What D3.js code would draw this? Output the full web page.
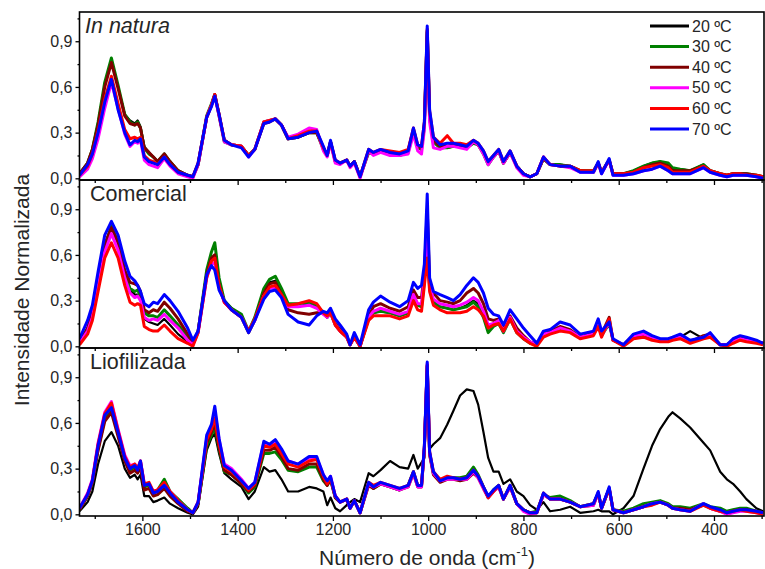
<!DOCTYPE html>
<html>
<head>
<meta charset="utf-8">
<script src="https://cdn.jsdelivr.net/npm/d3@7"></script>
<style>
  body { margin: 0; background: #fff; }
  text { font-family: "Liberation Sans", Arial, sans-serif; fill: #262626; }
</style>
</head>
<body>
<svg id="chart" width="765" height="569"></svg>
<script>
// Raman shift grid (cm-1), shared by every spectrum below
const wavenumbers = [
  1732, 1715, 1705, 1693, 1679, 1665, 1651, 1637, 1626, 1616,
  1610, 1604, 1596, 1586, 1577, 1568, 1554, 1542, 1525, 1505,
  1494, 1483, 1465, 1455, 1448, 1439, 1428, 1413, 1392, 1377,
  1364, 1345, 1333, 1321, 1308, 1294, 1273, 1250, 1234, 1220,
  1212, 1205, 1195, 1185, 1171, 1164, 1155, 1143, 1125, 1115,
  1100, 1080, 1060, 1042, 1031, 1022, 1014, 1008, 1002, 997,
  989, 975, 960, 947, 933, 919, 905, 895, 884, 874,
  863, 852, 842, 828, 814, 800, 786, 772, 758, 744,
  723, 702, 681, 653, 643, 636, 620, 612, 590, 569,
  548, 530, 513, 496, 487, 471, 450, 422, 408, 387,
  373, 360, 345, 332, 311, 297
]

const temperatures = ['20 ºC', '30 ºC', '40 ºC', '50 ºC', '60 ºC', '70 ºC']
const colors = ['#000000', '#008000', '#800000', '#ff00ff', '#ff0000', '#0000ff']
const panelNames = ['In natura', 'Comercial', 'Liofilizada']
const xTicks = [1600, 1400, 1200, 1000, 800, 600, 400]
const xMinorTicks = [1700, 1500, 1300, 1100, 900, 700, 500, 300]
const yTicks = [0, 0.3, 0.6, 0.9]
const yMinorTicks = [0.15, 0.45, 0.75, 1.05]

// In natura
const inNatura20 = [
  0.03, 0.10, 0.19, 0.36, 0.62, 0.78, 0.60, 0.42, 0.38, 0.36,
  0.38, 0.34, 0.21, 0.17, 0.14, 0.11, 0.16, 0.11, 0.05, 0.02,
  0.01, 0.09, 0.40, 0.48, 0.55, 0.42, 0.25, 0.22, 0.21, 0.15,
  0.19, 0.36, 0.38, 0.39, 0.35, 0.26, 0.27, 0.30, 0.30, 0.20,
  0.15, 0.24, 0.11, 0.10, 0.12, 0.08, 0.11, 0.01, 0.17, 0.16,
  0.18, 0.17, 0.15, 0.17, 0.31, 0.20, 0.19, 0.34, 0.95, 0.40,
  0.24, 0.20, 0.20, 0.21, 0.21, 0.20, 0.24, 0.22, 0.17, 0.10,
  0.14, 0.18, 0.10, 0.17, 0.08, 0.03, 0.01, 0.03, 0.13, 0.09,
  0.09, 0.08, 0.05, 0.05, 0.10, 0.04, 0.12, 0.03, 0.03, 0.05,
  0.08, 0.10, 0.11, 0.09, 0.06, 0.06, 0.05, 0.09, 0.05, 0.03,
  0.02, 0.03, 0.03, 0.03, 0.02, 0.01
]
const inNatura30 = [
  0.03, 0.10, 0.19, 0.37, 0.63, 0.79, 0.61, 0.42, 0.37, 0.35,
  0.37, 0.33, 0.20, 0.16, 0.14, 0.11, 0.16, 0.11, 0.05, 0.02,
  0.01, 0.09, 0.41, 0.49, 0.55, 0.41, 0.24, 0.22, 0.21, 0.15,
  0.19, 0.37, 0.38, 0.39, 0.35, 0.26, 0.27, 0.30, 0.30, 0.19,
  0.15, 0.24, 0.11, 0.10, 0.12, 0.08, 0.11, 0.01, 0.17, 0.16,
  0.18, 0.17, 0.15, 0.17, 0.31, 0.20, 0.19, 0.34, 0.96, 0.40,
  0.24, 0.20, 0.20, 0.21, 0.21, 0.20, 0.23, 0.22, 0.16, 0.09,
  0.14, 0.18, 0.10, 0.17, 0.08, 0.03, 0.01, 0.03, 0.13, 0.09,
  0.09, 0.08, 0.05, 0.05, 0.10, 0.04, 0.12, 0.03, 0.03, 0.05,
  0.08, 0.10, 0.11, 0.10, 0.07, 0.06, 0.05, 0.09, 0.05, 0.03,
  0.02, 0.03, 0.03, 0.03, 0.02, 0.01
]
const inNatura40 = [
  0.03, 0.10, 0.19, 0.35, 0.60, 0.76, 0.59, 0.41, 0.36, 0.35,
  0.36, 0.33, 0.20, 0.17, 0.14, 0.11, 0.16, 0.11, 0.05, 0.02,
  0.01, 0.09, 0.40, 0.48, 0.55, 0.42, 0.25, 0.22, 0.21, 0.15,
  0.19, 0.36, 0.37, 0.39, 0.35, 0.26, 0.27, 0.30, 0.30, 0.20,
  0.15, 0.24, 0.11, 0.10, 0.12, 0.08, 0.11, 0.01, 0.18, 0.16,
  0.18, 0.17, 0.16, 0.18, 0.32, 0.21, 0.20, 0.35, 0.97, 0.42,
  0.25, 0.21, 0.21, 0.22, 0.21, 0.20, 0.24, 0.22, 0.17, 0.10,
  0.14, 0.18, 0.10, 0.17, 0.08, 0.03, 0.01, 0.03, 0.13, 0.09,
  0.08, 0.08, 0.05, 0.04, 0.10, 0.04, 0.12, 0.03, 0.03, 0.04,
  0.07, 0.09, 0.10, 0.08, 0.05, 0.05, 0.05, 0.08, 0.05, 0.03,
  0.02, 0.03, 0.03, 0.03, 0.02, 0.01
]
const inNatura50 = [
  0.01, 0.06, 0.13, 0.26, 0.46, 0.63, 0.46, 0.29, 0.21, 0.24,
  0.23, 0.25, 0.12, 0.09, 0.08, 0.07, 0.13, 0.08, 0.03, 0.01,
  0.00, 0.09, 0.40, 0.48, 0.54, 0.41, 0.24, 0.22, 0.21, 0.14,
  0.19, 0.37, 0.38, 0.39, 0.35, 0.27, 0.29, 0.33, 0.32, 0.18,
  0.14, 0.23, 0.10, 0.09, 0.12, 0.07, 0.10, 0.00, 0.18, 0.15,
  0.17, 0.15, 0.15, 0.16, 0.29, 0.18, 0.16, 0.32, 0.90, 0.37,
  0.20, 0.19, 0.21, 0.21, 0.20, 0.19, 0.24, 0.22, 0.16, 0.09,
  0.14, 0.18, 0.10, 0.17, 0.07, 0.02, 0.01, 0.03, 0.14, 0.09,
  0.08, 0.07, 0.04, 0.04, 0.10, 0.03, 0.12, 0.02, 0.02, 0.03,
  0.05, 0.06, 0.08, 0.05, 0.03, 0.03, 0.03, 0.07, 0.04, 0.02,
  0.01, 0.02, 0.02, 0.02, 0.01, 0.00
]
const inNatura60 = [
  0.02, 0.08, 0.16, 0.31, 0.52, 0.67, 0.49, 0.32, 0.26, 0.27,
  0.26, 0.27, 0.15, 0.12, 0.11, 0.09, 0.14, 0.09, 0.04, 0.02,
  0.01, 0.10, 0.40, 0.48, 0.55, 0.42, 0.25, 0.22, 0.21, 0.15,
  0.19, 0.37, 0.38, 0.39, 0.35, 0.26, 0.28, 0.31, 0.31, 0.20,
  0.15, 0.24, 0.12, 0.10, 0.12, 0.08, 0.11, 0.01, 0.19, 0.17,
  0.19, 0.18, 0.17, 0.19, 0.33, 0.22, 0.21, 0.37, 0.98, 0.44,
  0.27, 0.23, 0.28, 0.23, 0.23, 0.22, 0.25, 0.23, 0.18, 0.11,
  0.15, 0.19, 0.11, 0.18, 0.08, 0.03, 0.01, 0.03, 0.14, 0.09,
  0.08, 0.08, 0.05, 0.05, 0.10, 0.04, 0.12, 0.03, 0.03, 0.04,
  0.07, 0.08, 0.09, 0.07, 0.04, 0.04, 0.04, 0.08, 0.05, 0.03,
  0.02, 0.03, 0.03, 0.02, 0.02, 0.01
]
const inNatura70 = [
  0.02, 0.09, 0.16, 0.30, 0.50, 0.65, 0.45, 0.30, 0.22, 0.25,
  0.24, 0.26, 0.14, 0.11, 0.10, 0.09, 0.14, 0.09, 0.04, 0.02,
  0.01, 0.10, 0.40, 0.47, 0.54, 0.42, 0.25, 0.22, 0.20, 0.14,
  0.19, 0.36, 0.37, 0.39, 0.35, 0.26, 0.27, 0.30, 0.31, 0.21,
  0.15, 0.25, 0.12, 0.10, 0.12, 0.08, 0.11, 0.01, 0.19, 0.17,
  0.19, 0.17, 0.16, 0.18, 0.33, 0.22, 0.21, 0.37, 1.00, 0.45,
  0.27, 0.22, 0.23, 0.23, 0.22, 0.21, 0.25, 0.23, 0.18, 0.11,
  0.15, 0.19, 0.11, 0.18, 0.08, 0.03, 0.01, 0.03, 0.14, 0.09,
  0.08, 0.08, 0.04, 0.04, 0.11, 0.03, 0.13, 0.02, 0.02, 0.03,
  0.05, 0.06, 0.08, 0.05, 0.03, 0.03, 0.03, 0.07, 0.04, 0.02,
  0.01, 0.02, 0.02, 0.02, 0.01, 0.00
]

// Comercial
const comercial20 = [
  0.03, 0.12, 0.21, 0.42, 0.66, 0.79, 0.68, 0.48, 0.37, 0.34,
  0.34, 0.31, 0.18, 0.16, 0.15, 0.14, 0.18, 0.14, 0.08, 0.03,
  0.01, 0.09, 0.48, 0.58, 0.60, 0.42, 0.30, 0.25, 0.20, 0.10,
  0.18, 0.36, 0.42, 0.43, 0.36, 0.26, 0.26, 0.28, 0.26, 0.21,
  0.19, 0.22, 0.14, 0.10, 0.06, 0.01, 0.06, 0.00, 0.18, 0.22,
  0.23, 0.22, 0.20, 0.22, 0.33, 0.27, 0.26, 0.43, 0.75, 0.38,
  0.29, 0.26, 0.25, 0.24, 0.25, 0.27, 0.30, 0.28, 0.21, 0.12,
  0.15, 0.16, 0.10, 0.19, 0.10, 0.06, 0.03, 0.01, 0.07, 0.09,
  0.12, 0.10, 0.06, 0.08, 0.14, 0.07, 0.15, 0.04, 0.01, 0.06,
  0.07, 0.05, 0.04, 0.04, 0.05, 0.06, 0.10, 0.05, 0.07, 0.01,
  0.01, 0.03, 0.05, 0.04, 0.03, 0.01
]
const comercial30 = [
  0.03, 0.11, 0.20, 0.40, 0.65, 0.79, 0.68, 0.48, 0.38, 0.36,
  0.37, 0.33, 0.22, 0.20, 0.20, 0.19, 0.24, 0.20, 0.14, 0.06,
  0.01, 0.10, 0.50, 0.62, 0.68, 0.45, 0.30, 0.25, 0.21, 0.10,
  0.19, 0.38, 0.44, 0.46, 0.38, 0.28, 0.28, 0.29, 0.27, 0.22,
  0.19, 0.22, 0.14, 0.10, 0.06, 0.01, 0.06, 0.00, 0.18, 0.22,
  0.23, 0.22, 0.20, 0.22, 0.34, 0.27, 0.26, 0.43, 0.72, 0.38,
  0.29, 0.26, 0.25, 0.24, 0.25, 0.26, 0.29, 0.26, 0.19, 0.09,
  0.13, 0.15, 0.09, 0.18, 0.09, 0.05, 0.02, 0.01, 0.07, 0.09,
  0.12, 0.10, 0.06, 0.08, 0.14, 0.07, 0.15, 0.04, 0.01, 0.06,
  0.07, 0.05, 0.04, 0.04, 0.05, 0.06, 0.03, 0.06, 0.07, 0.01,
  0.01, 0.03, 0.06, 0.05, 0.03, 0.02
]
const comercial40 = [
  0.03, 0.12, 0.22, 0.43, 0.67, 0.78, 0.68, 0.50, 0.42, 0.41,
  0.40, 0.36, 0.24, 0.22, 0.24, 0.23, 0.29, 0.25, 0.18, 0.08,
  0.02, 0.10, 0.47, 0.58, 0.60, 0.40, 0.29, 0.24, 0.19, 0.09,
  0.17, 0.35, 0.41, 0.42, 0.34, 0.24, 0.22, 0.21, 0.22, 0.22,
  0.20, 0.22, 0.15, 0.11, 0.07, 0.01, 0.07, 0.00, 0.20, 0.26,
  0.28, 0.25, 0.23, 0.26, 0.37, 0.32, 0.32, 0.48, 0.90, 0.42,
  0.35, 0.30, 0.29, 0.28, 0.30, 0.35, 0.38, 0.35, 0.28, 0.18,
  0.17, 0.18, 0.11, 0.20, 0.12, 0.07, 0.03, 0.01, 0.08, 0.10,
  0.13, 0.11, 0.06, 0.09, 0.15, 0.08, 0.19, 0.04, 0.01, 0.07,
  0.08, 0.06, 0.04, 0.04, 0.05, 0.07, 0.03, 0.07, 0.08, 0.01,
  0.01, 0.04, 0.06, 0.05, 0.03, 0.02
]
const comercial50 = [
  0.02, 0.10, 0.19, 0.39, 0.62, 0.74, 0.63, 0.45, 0.35, 0.32,
  0.33, 0.30, 0.19, 0.17, 0.18, 0.17, 0.21, 0.17, 0.12, 0.04,
  0.01, 0.09, 0.45, 0.54, 0.55, 0.39, 0.29, 0.24, 0.19, 0.10,
  0.17, 0.33, 0.38, 0.39, 0.33, 0.26, 0.26, 0.27, 0.25, 0.21,
  0.19, 0.22, 0.14, 0.10, 0.06, 0.01, 0.06, 0.00, 0.19, 0.23,
  0.25, 0.23, 0.21, 0.23, 0.34, 0.28, 0.28, 0.45, 0.72, 0.40,
  0.31, 0.28, 0.27, 0.26, 0.27, 0.29, 0.32, 0.30, 0.23, 0.14,
  0.15, 0.17, 0.10, 0.19, 0.10, 0.06, 0.03, 0.01, 0.08, 0.09,
  0.12, 0.10, 0.06, 0.08, 0.15, 0.07, 0.16, 0.04, 0.01, 0.07,
  0.08, 0.06, 0.04, 0.04, 0.05, 0.06, 0.03, 0.06, 0.07, 0.01,
  0.01, 0.03, 0.05, 0.04, 0.03, 0.02
]
const comercial60 = [
  0.01, 0.08, 0.17, 0.36, 0.58, 0.68, 0.58, 0.40, 0.29, 0.27,
  0.28, 0.27, 0.13, 0.11, 0.10, 0.10, 0.14, 0.10, 0.05, 0.02,
  0.00, 0.09, 0.45, 0.56, 0.58, 0.40, 0.29, 0.24, 0.19, 0.10,
  0.18, 0.33, 0.39, 0.40, 0.34, 0.27, 0.28, 0.30, 0.28, 0.22,
  0.20, 0.22, 0.14, 0.10, 0.06, 0.01, 0.06, 0.00, 0.17, 0.20,
  0.20, 0.20, 0.18, 0.20, 0.30, 0.24, 0.23, 0.40, 0.58, 0.36,
  0.27, 0.24, 0.22, 0.22, 0.22, 0.23, 0.26, 0.24, 0.20, 0.12,
  0.14, 0.15, 0.10, 0.18, 0.09, 0.05, 0.02, 0.00, 0.06, 0.08,
  0.10, 0.09, 0.05, 0.07, 0.13, 0.06, 0.18, 0.04, 0.00, 0.05,
  0.06, 0.04, 0.03, 0.03, 0.04, 0.05, 0.02, 0.05, 0.06, 0.01,
  0.00, 0.02, 0.04, 0.03, 0.02, 0.01
]
const comercial70 = [
  0.05, 0.17, 0.27, 0.49, 0.73, 0.82, 0.73, 0.56, 0.46, 0.43,
  0.40, 0.36, 0.28, 0.26, 0.29, 0.28, 0.34, 0.30, 0.23, 0.12,
  0.04, 0.10, 0.47, 0.53, 0.50, 0.37, 0.30, 0.24, 0.19, 0.09,
  0.17, 0.31, 0.36, 0.37, 0.32, 0.21, 0.16, 0.14, 0.20, 0.23,
  0.22, 0.25, 0.18, 0.14, 0.08, 0.01, 0.09, 0.01, 0.24, 0.29,
  0.33, 0.29, 0.26, 0.30, 0.42, 0.38, 0.40, 0.54, 1.00, 0.45,
  0.36, 0.34, 0.32, 0.30, 0.34, 0.40, 0.45, 0.42, 0.35, 0.25,
  0.21, 0.20, 0.14, 0.24, 0.18, 0.12, 0.07, 0.02, 0.10, 0.11,
  0.16, 0.14, 0.08, 0.10, 0.18, 0.10, 0.16, 0.05, 0.01, 0.08,
  0.10, 0.07, 0.05, 0.05, 0.06, 0.08, 0.04, 0.06, 0.09, 0.01,
  0.01, 0.05, 0.07, 0.06, 0.04, 0.02
]

// Liofilizada
const liofilizada20 = [
  0.02, 0.08, 0.15, 0.33, 0.48, 0.54, 0.45, 0.30, 0.24, 0.26,
  0.23, 0.26, 0.12, 0.12, 0.08, 0.09, 0.11, 0.07, 0.04, 0.01,
  0.00, 0.05, 0.42, 0.50, 0.53, 0.40, 0.27, 0.23, 0.18, 0.10,
  0.15, 0.31, 0.28, 0.29, 0.23, 0.15, 0.15, 0.18, 0.17, 0.15,
  0.06, 0.11, 0.04, 0.02, 0.06, 0.08, 0.10, 0.08, 0.27, 0.25,
  0.29, 0.35, 0.31, 0.30, 0.39, 0.30, 0.34, 0.37, 0.95, 0.43,
  0.46, 0.50, 0.59, 0.68, 0.78, 0.82, 0.81, 0.72, 0.54, 0.37,
  0.28, 0.28, 0.20, 0.23, 0.15, 0.12, 0.06, 0.03, 0.08, 0.02,
  0.03, 0.05, 0.01, 0.02, 0.03, 0.02, 0.02, 0.00, 0.04, 0.12,
  0.30, 0.45, 0.56, 0.64, 0.67, 0.63, 0.57, 0.47, 0.42, 0.28,
  0.23, 0.20, 0.15, 0.10, 0.04, 0.02
]
const liofilizada30 = [
  0.03, 0.12, 0.21, 0.43, 0.63, 0.70, 0.53, 0.36, 0.29, 0.31,
  0.28, 0.33, 0.18, 0.19, 0.14, 0.16, 0.23, 0.15, 0.10, 0.04,
  0.01, 0.07, 0.45, 0.52, 0.57, 0.43, 0.28, 0.26, 0.20, 0.14,
  0.18, 0.40, 0.40, 0.41, 0.36, 0.29, 0.28, 0.31, 0.31, 0.22,
  0.19, 0.23, 0.11, 0.08, 0.10, 0.04, 0.09, 0.01, 0.20, 0.17,
  0.20, 0.18, 0.16, 0.19, 0.28, 0.19, 0.19, 0.44, 0.98, 0.40,
  0.27, 0.22, 0.24, 0.24, 0.24, 0.25, 0.31, 0.26, 0.18, 0.11,
  0.16, 0.19, 0.10, 0.19, 0.07, 0.03, 0.01, 0.02, 0.13, 0.11,
  0.12, 0.09, 0.05, 0.07, 0.14, 0.04, 0.17, 0.03, 0.02, 0.04,
  0.07, 0.08, 0.09, 0.07, 0.05, 0.05, 0.04, 0.07, 0.05, 0.04,
  0.02, 0.03, 0.04, 0.04, 0.02, 0.01
]
const liofilizada40 = [
  0.03, 0.12, 0.21, 0.42, 0.61, 0.67, 0.51, 0.35, 0.27, 0.29,
  0.27, 0.31, 0.16, 0.17, 0.12, 0.13, 0.17, 0.12, 0.07, 0.02,
  0.01, 0.07, 0.47, 0.54, 0.60, 0.44, 0.29, 0.26, 0.20, 0.15,
  0.19, 0.42, 0.42, 0.44, 0.38, 0.30, 0.29, 0.33, 0.33, 0.23,
  0.19, 0.23, 0.11, 0.08, 0.10, 0.04, 0.09, 0.01, 0.19, 0.17,
  0.20, 0.18, 0.16, 0.18, 0.27, 0.18, 0.18, 0.43, 0.97, 0.39,
  0.26, 0.21, 0.23, 0.23, 0.22, 0.23, 0.27, 0.24, 0.17, 0.11,
  0.15, 0.18, 0.10, 0.18, 0.07, 0.03, 0.01, 0.01, 0.13, 0.10,
  0.10, 0.08, 0.05, 0.06, 0.14, 0.04, 0.17, 0.03, 0.01, 0.03,
  0.05, 0.07, 0.08, 0.06, 0.04, 0.04, 0.03, 0.06, 0.04, 0.02,
  0.01, 0.02, 0.03, 0.03, 0.02, 0.01
]
const liofilizada50 = [
  0.04, 0.14, 0.23, 0.47, 0.67, 0.74, 0.56, 0.39, 0.32, 0.33,
  0.30, 0.35, 0.20, 0.20, 0.15, 0.16, 0.20, 0.15, 0.09, 0.03,
  0.01, 0.08, 0.50, 0.57, 0.68, 0.49, 0.33, 0.30, 0.23, 0.17,
  0.21, 0.47, 0.45, 0.47, 0.42, 0.35, 0.33, 0.37, 0.37, 0.26,
  0.21, 0.25, 0.12, 0.08, 0.10, 0.04, 0.09, 0.01, 0.20, 0.18,
  0.20, 0.18, 0.16, 0.18, 0.27, 0.18, 0.18, 0.44, 0.99, 0.40,
  0.27, 0.22, 0.23, 0.23, 0.23, 0.23, 0.28, 0.24, 0.17, 0.11,
  0.15, 0.18, 0.10, 0.18, 0.07, 0.02, 0.00, 0.01, 0.13, 0.10,
  0.10, 0.08, 0.05, 0.06, 0.14, 0.04, 0.17, 0.03, 0.01, 0.03,
  0.05, 0.07, 0.08, 0.06, 0.04, 0.03, 0.02, 0.07, 0.04, 0.02,
  0.00, 0.01, 0.02, 0.02, 0.01, 0.00
]
const liofilizada60 = [
  0.04, 0.13, 0.22, 0.46, 0.66, 0.73, 0.55, 0.38, 0.31, 0.33,
  0.30, 0.35, 0.20, 0.21, 0.15, 0.16, 0.21, 0.15, 0.09, 0.03,
  0.01, 0.08, 0.49, 0.56, 0.63, 0.46, 0.31, 0.28, 0.22, 0.16,
  0.20, 0.45, 0.44, 0.46, 0.40, 0.33, 0.31, 0.35, 0.36, 0.25,
  0.20, 0.24, 0.12, 0.08, 0.10, 0.04, 0.09, 0.01, 0.21, 0.19,
  0.21, 0.19, 0.17, 0.19, 0.28, 0.19, 0.19, 0.44, 0.98, 0.41,
  0.28, 0.23, 0.25, 0.24, 0.23, 0.24, 0.29, 0.25, 0.18, 0.11,
  0.15, 0.19, 0.10, 0.19, 0.07, 0.03, 0.01, 0.01, 0.14, 0.10,
  0.10, 0.08, 0.05, 0.07, 0.14, 0.04, 0.17, 0.03, 0.01, 0.03,
  0.05, 0.06, 0.08, 0.06, 0.04, 0.03, 0.02, 0.06, 0.04, 0.02,
  0.01, 0.02, 0.03, 0.02, 0.01, 0.00
]
const liofilizada70 = [
  0.04, 0.13, 0.22, 0.45, 0.65, 0.70, 0.54, 0.37, 0.30, 0.32,
  0.29, 0.35, 0.19, 0.20, 0.14, 0.15, 0.19, 0.14, 0.08, 0.03,
  0.01, 0.08, 0.52, 0.59, 0.71, 0.50, 0.32, 0.29, 0.22, 0.17,
  0.21, 0.48, 0.46, 0.49, 0.43, 0.35, 0.33, 0.38, 0.38, 0.26,
  0.22, 0.25, 0.12, 0.08, 0.10, 0.04, 0.09, 0.01, 0.21, 0.18,
  0.21, 0.19, 0.17, 0.19, 0.28, 0.19, 0.19, 0.45, 1.00, 0.41,
  0.28, 0.22, 0.24, 0.24, 0.23, 0.24, 0.29, 0.25, 0.18, 0.12,
  0.16, 0.19, 0.10, 0.19, 0.07, 0.03, 0.01, 0.01, 0.14, 0.10,
  0.10, 0.08, 0.05, 0.07, 0.15, 0.04, 0.18, 0.03, 0.01, 0.03,
  0.05, 0.07, 0.08, 0.06, 0.04, 0.03, 0.02, 0.07, 0.05, 0.03,
  0.01, 0.02, 0.03, 0.03, 0.02, 0.01
]

const panelSeries = [
  [inNatura20, inNatura30, inNatura40, inNatura50, inNatura60, inNatura70],
  [comercial20, comercial30, comercial40, comercial50, comercial60, comercial70],
  [liofilizada20, liofilizada30, liofilizada40, liofilizada50, liofilizada60, liofilizada70]
]

const width = 765, height = 569
const left = 79.5, right = 764
const panelTops = [12, 180, 348], panelHeight = 168

const svg = d3.select('#chart')
const x = d3.scaleLinear().domain([1732, 295]).range([left, right])
const commaFormat = d => d3.format('.1f')(d).replace('.', ',')

panelNames.forEach((name, p) => drawPanel(name, p))
drawLegend()
drawTitles()

function drawPanel(name, p) {
  const top = panelTops[p], bottom = top + panelHeight
  const y = d3.scaleLinear().domain([-0.011, 1.092]).range([bottom, top])
  const g = svg.append('g')

  g.append('clipPath').attr('id', 'clip' + p)
    .append('rect')
    .attr('x', left).attr('y', top)
    .attr('width', right - left).attr('height', panelHeight)

  const line = d3.line()
    .x((d, i) => x(wavenumbers[i]))
    .y(d => y(d))

  g.append('g').attr('clip-path', `url(#clip${p})`)
    .selectAll('path')
    .data(panelSeries[p])
    .join('path')
    .attr('d', line)
    .attr('fill', 'none')
    .attr('stroke', (d, i) => colors[i])
    .attr('stroke-width', (d, i) => i == 0 ? 2.2 : 3)
    .attr('stroke-linejoin', 'round')

  // bottom axis: labels only on the last panel
  g.append('g').attr('transform', `translate(0,${bottom})`)
    .call(d3.axisBottom(x).tickValues(xTicks).tickSize(5).tickPadding(3)
      .tickFormat(p == 2 ? d3.format('d') : ''))
  g.append('g').attr('transform', `translate(0,${bottom})`)
    .call(d3.axisBottom(x).tickValues(xMinorTicks.filter(t => t > 295)).tickSize(3).tickFormat(''))

  g.append('g').attr('transform', `translate(${left},0)`)
    .call(d3.axisLeft(y).tickValues(yTicks).tickSize(4).tickPadding(3).tickFormat(commaFormat))
  g.append('g').attr('transform', `translate(${left},0)`)
    .call(d3.axisLeft(y).tickValues(yMinorTicks).tickSize(2).tickFormat(''))

  g.selectAll('.domain').remove()
  g.selectAll('.tick line').attr('stroke', '#000').attr('stroke-width', 1.3)
  g.selectAll('.tick text').style('font-size', '16px').attr('fill', '#262626')
    .style('font-family', '"Liberation Sans", Arial, sans-serif')

  g.append('rect')
    .attr('x', left).attr('y', top)
    .attr('width', right - left).attr('height', panelHeight)
    .attr('fill', 'none').attr('stroke', '#000').attr('stroke-width', 1.6)

  g.append('text')
    .attr('x', p == 0 ? 85 : 90).attr('y', top + 21)
    .style('font-size', '21.5px')
    .style('font-style', p == 0 ? 'italic' : 'normal')
    .text(name)
}

function drawLegend() {
  const rowY = d3.scaleLinear().domain([0, 5]).range([26, 129])
  const legend = svg.append('g')
  temperatures.forEach((label, i) => {
    legend.append('line')
      .attr('x1', 650).attr('x2', 689)
      .attr('y1', rowY(i)).attr('y2', rowY(i))
      .attr('stroke', colors[i]).attr('stroke-width', 3)
    legend.append('text')
      .attr('x', 692).attr('y', rowY(i)).attr('dy', '0.35em')
      .style('font-size', '16px')
      .text(label)
  })
}

function drawTitles() {
  const xt = svg.append('text')
    .attr('x', 427).attr('y', 565)
    .attr('text-anchor', 'middle')
    .style('font-size', '21px')
  xt.append('tspan').text('Número de onda (cm')
  xt.append('tspan').attr('dy', -9).style('font-size', '13px').text('-1')
  xt.append('tspan').attr('dy', 9).text(')')

  svg.append('text')
    .attr('transform', 'translate(29,290) rotate(-90)')
    .attr('text-anchor', 'middle')
    .style('font-size', '21px')
    .text('Intensidade Normalizada')
}
</script>
</body>
</html>
